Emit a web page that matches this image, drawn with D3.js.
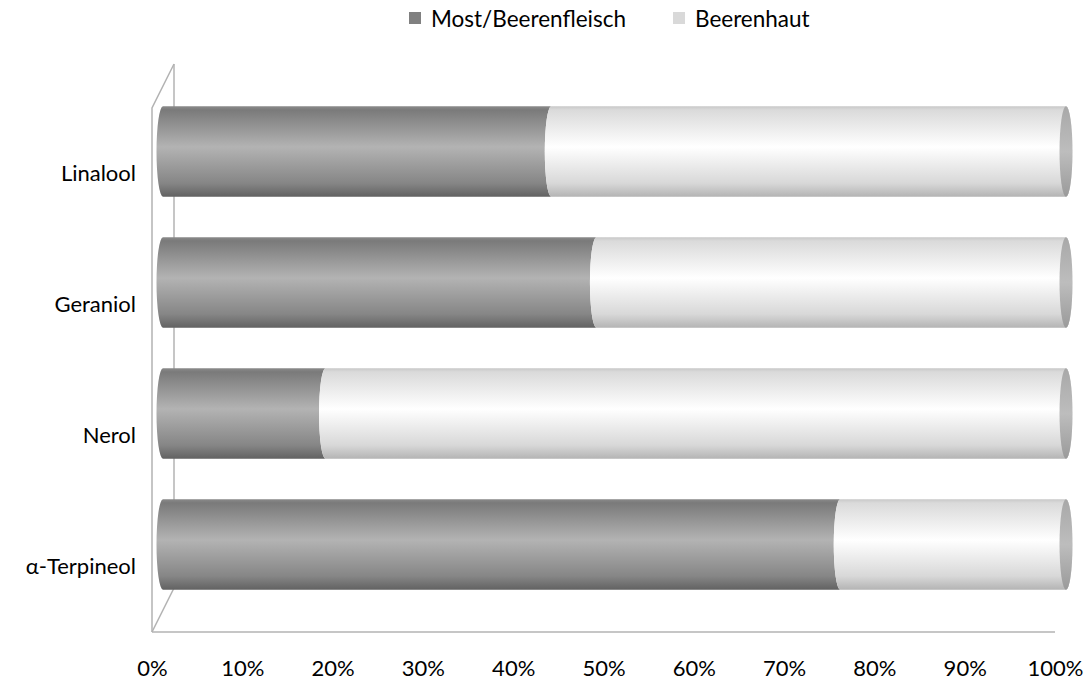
<!DOCTYPE html>
<html>
<head>
<meta charset="utf-8">
<script src="https://cdn.jsdelivr.net/npm/d3@7"></script>
<style>
  body { margin: 0; background: #fff; }
  text { font-family: Lato, "Open Sans", sans-serif; fill: #000; }
</style>
</head>
<body>
<div id="chart"></div>
<script>
var width = 1089;
var height = 684;

// data
var categories = ["Linalool", "Geraniol", "Nerol", "α-Terpineol"];
var seriesNames = ["Most/Beerenfleisch", "Beerenhaut"];
var most = [0.43, 0.48, 0.18, 0.75];
var haut = [0.57, 0.52, 0.82, 0.25];
var ticks = [0, 0.1, 0.2, 0.3, 0.4, 0.5, 0.6, 0.7, 0.8, 0.9, 1];

var svg = d3.select("#chart").append("svg")
    .attr("width", width)
    .attr("height", height);

// front plane scales
var xScale = d3.scaleLinear().domain([0, 1]).range([152, 1055]);
var yScale = d3.scaleBand().domain(categories).range([108, 632])
    .paddingInner(0.31).paddingOuter(0.155);

// depth offset of the 3d plot
var dx = 22, dy = -44;

var defs = svg.append("defs");
function grad(id, stops) {
    var g = defs.append("linearGradient").attr("id", id)
        .attr("x1", 0).attr("y1", 0).attr("x2", 0).attr("y2", 1);
    stops.forEach(function(s) {
        g.append("stop").attr("offset", s[0]).attr("stop-color", s[1]);
    });
}
grad("gDark", [[0, "#8a8a8a"], [0.04, "#7a7a7a"], [0.45, "#b3b3b3"], [0.85, "#868686"], [1, "#626262"]]);
grad("gLight", [[0, "#c8c8c8"], [0.04, "#dadada"], [0.45, "#ffffff"], [0.85, "#d8d8d8"], [1, "#b4b4b4"]]);
grad("gCap", [[0, "#a8a8a8"], [0.5, "#bdbdbd"], [1, "#9a9a9a"]]);

// walls
var wall = svg.append("g").attr("stroke", "#b3b3b3").attr("stroke-width", 1.5).attr("fill", "none");
var x0 = xScale(0), x1 = xScale(1), yTop = 108, yBot = 632;
wall.append("line").attr("x1", x0 + dx).attr("y1", yTop + dy).attr("x2", x0 + dx).attr("y2", yBot + dy);
wall.append("path").attr("d", "M" + x0 + "," + yBot + "L" + x0 + "," + yTop + "L" + (x0 + dx) + "," + (yTop + dy));
wall.append("line").attr("x1", x0).attr("y1", yBot).attr("x2", x0 + dx).attr("y2", yBot + dy);
wall.append("line").attr("x1", x0).attr("y1", yBot).attr("x2", x1).attr("y2", yBot);

// bars as cylinders, drawn at mid depth
var bars = svg.append("g").attr("transform", "translate(" + (dx / 2) + "," + (dy / 2) + ")");
var rx = 6.5;

function segPath(a, b, top, bot, last) {
    var ry = (bot - top) / 2;
    var p = "M" + a + "," + top;
    p += "A" + rx + "," + ry + " 0 0 0 " + a + "," + bot;
    p += "L" + b + "," + bot;
    if (last) p += "A" + rx + "," + ry + " 0 0 0 " + b + "," + top;
    else p += "A" + rx + "," + ry + " 0 0 1 " + b + "," + top;
    return p + "Z";
}

categories.forEach(function(c, i) {
    var top = yScale(c), bot = top + yScale.bandwidth();
    var xa = xScale(0), xm = xScale(most[i]), xb = xScale(most[i] + haut[i]);
    bars.append("path").attr("d", segPath(xa, xm, top, bot, false)).attr("fill", "url(#gDark)");
    bars.append("path").attr("d", segPath(xm, xb, top, bot, true)).attr("fill", "url(#gLight)");
    bars.append("ellipse").attr("cx", xb).attr("cy", (top + bot) / 2)
        .attr("rx", rx).attr("ry", (bot - top) / 2).attr("fill", "url(#gCap)");
});

// category labels
svg.append("g").selectAll("text").data(categories).enter().append("text")
    .attr("x", 136)
    .attr("y", function(d) { return yScale(d) + yScale.bandwidth() / 2; })
    .attr("dy", "0.35em")
    .attr("text-anchor", "end")
    .style("font-size", "22px")
    .text(function(d) { return d; });

// x axis labels
var xAxis = d3.axisBottom(xScale).tickValues(ticks).tickFormat(d3.format(".0%")).tickSize(0).tickPadding(0);
var ax = svg.append("g").attr("transform", "translate(0,660)").call(xAxis);
ax.select(".domain").remove();
ax.selectAll("text").style("font-size", "22px").style("font-family", "Lato, sans-serif").attr("fill", "#000");

// legend
var legendX = [409, 673];
var lg = svg.append("g");
seriesNames.forEach(function(s, i) {
    lg.append("rect").attr("x", legendX[i]).attr("y", 12).attr("width", 12).attr("height", 12)
        .attr("fill", i === 0 ? "#808080" : "#d9d9d9");
    lg.append("text").attr("x", legendX[i] + 22).attr("y", 19).attr("dy", "0.35em")
        .style("font-size", "22.5px").text(s);
});
</script>
</body>
</html>
